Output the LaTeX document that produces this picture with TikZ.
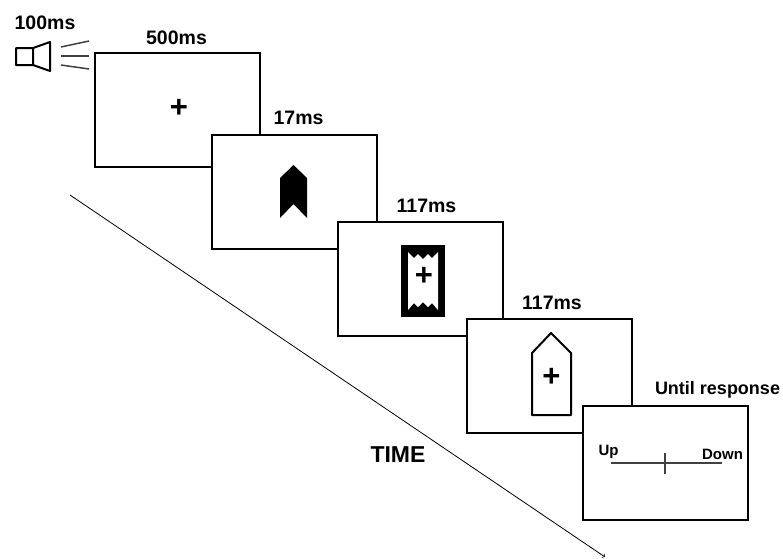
\documentclass[tikz,border=0pt]{standalone}
\usepackage{fontspec}
\setmainfont{Liberation Sans}
\usetikzlibrary{positioning, arrows}
\tikzset{
>=to,
screen/.style={draw, line width=2pt, fill=white, minimum width=165pt, minimum height=114pt, inner sep=0pt},
duration/.style={font=\bfseries\fontsize{19.5}{21}\selectfont, inner sep=0pt},
small/.style={font=\bfseries\fontsize{15}{17}\selectfont, inner sep=0pt},
fix/.style={font=\bfseries\fontsize{31}{31}\selectfont, inner sep=0pt},
thin line/.style={line width=1.5pt, black!75},
}

\begin{document}
\begin{tikzpicture}[x=1pt, y=-1pt]
  \useasboundingbox (0,0) rectangle (783,558);

  % time axis
  \coordinate (start) at (70,195);
  \coordinate (end) at (605,557);
  \draw[->, line width=0.8pt] (start) -- (end);
  \node[font=\bfseries\fontsize{23}{25}\selectfont, inner sep=0pt] (time) at (398,455) {TIME};

  % screens
  \node[screen] (s1) at (177.5,109.5) {};
  \node[screen] (s2) at (294,191.5) {};
  \node[screen] (s3) at (420.5,278.5) {};
  \node[screen] (s4) at (549.5,375.5) {};
  \node[screen] (s5) at (665.5,462.5) {};

  % durations
  \node[duration] (d0) at (45,23) {100ms};
  \node[duration] (d1) at (176.5,38) {500ms};
  \node[duration] (d2) at (298.5,118) {17ms};
  \node[duration] (d3) at (426.5,206) {117ms};
  \node[duration] (d4) at (552,303) {117ms};
  \node[font=\bfseries\fontsize{18}{20}\selectfont, inner sep=0pt] (d5) at (717.5,390) {Until response};

  % speaker
  \draw[line width=2pt, line join=round] (16,48) rectangle (33,65)
    (33,48) -- (50,42) -- (50,71) -- (33,65);
  \draw[thin line] (61,47) -- (89,41);
  \draw[thin line] (61,56) -- (89,56);
  \draw[thin line] (61,65) -- (89,69);

  % fixation
  \node[fix] (f1) at (179,108.5) {+};

  % mask arrow
  \fill (280,178) -- (293.5,165) -- (307,178) -- (307,218) -- (293.5,204) -- (280,218) -- cycle;

  % frame with jagged edges
  \fill (401,245) rectangle (445,317);
  \fill[white] (408,252) -- (414,258) -- (418,254) -- (423,259) -- (428,254) -- (432,258) -- (438,252)
    -- (438,310) -- (432,303) -- (428,307) -- (423,302) -- (418,307) -- (414,303) -- (408,310) -- cycle;
  \node[fix] (f3) at (424,276.5) {+};

  % target
  \draw[line width=2pt, line join=round] (532,415) -- (532,353) -- (551,333) -- (571,353) -- (571,415) -- cycle;
  \node[fix] (f4) at (551.5,377.5) {+};

  % response scale
  \node[small] (up) at (608.5,452) {Up};
  \node[small] (down) at (722.5,454) {Down};
  \coordinate (left) at (611,463);
  \coordinate (right) at (722,463);
  \coordinate (tick top) at (665,453);
  \coordinate (tick bottom) at (665,474);
  \draw[thin line] (left) -- (right);
  \draw[thin line] (tick top) -- (tick bottom);

\end{tikzpicture}
\end{document}
